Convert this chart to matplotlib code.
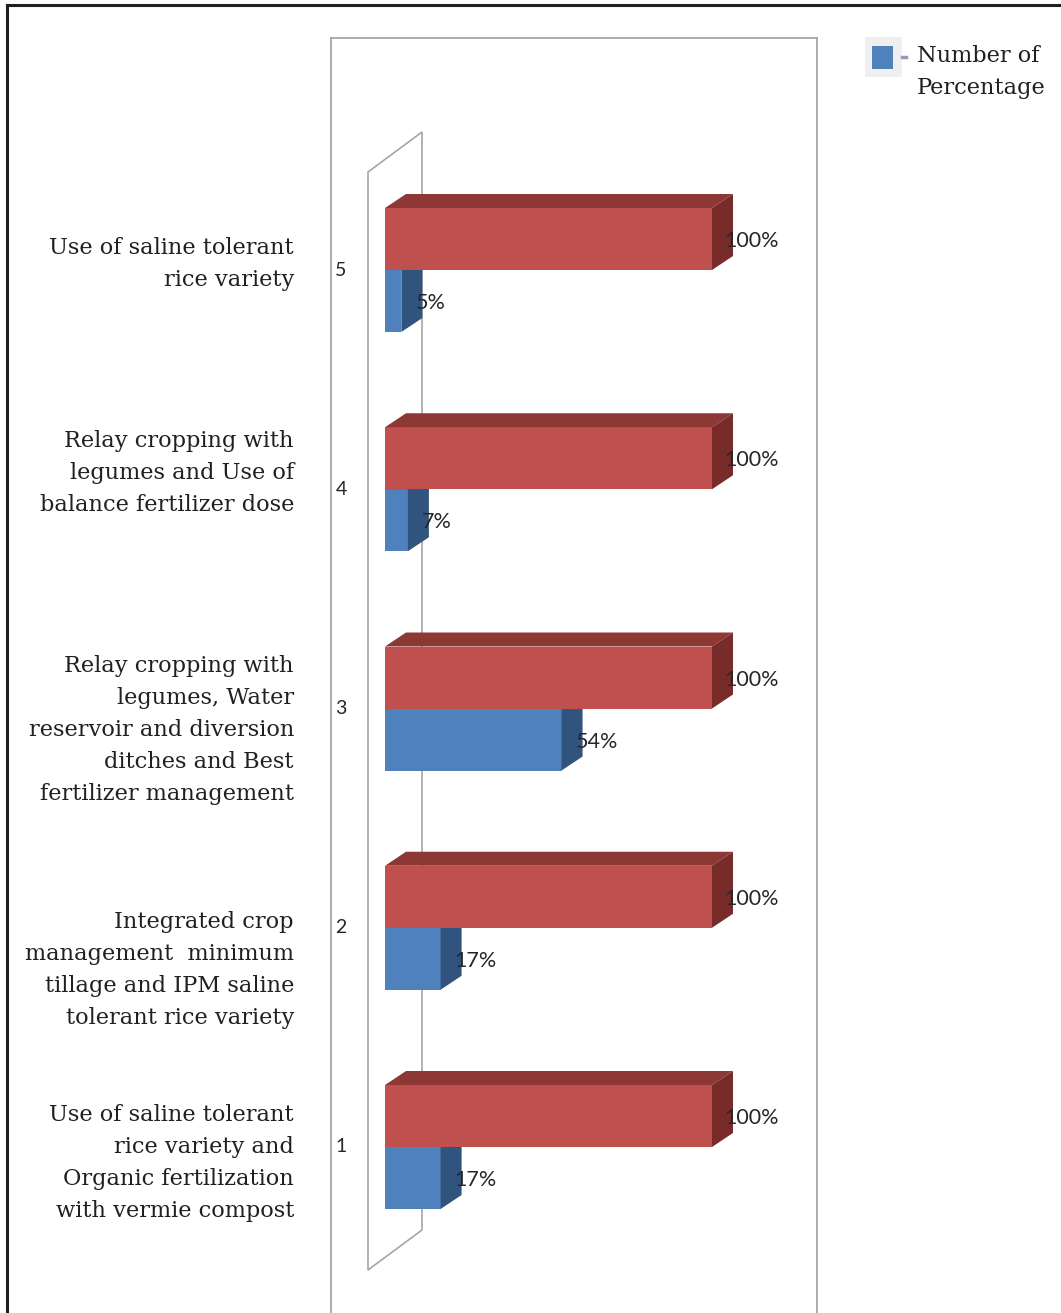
import matplotlib
matplotlib.use("Agg")
import matplotlib.pyplot as plt
from matplotlib.patches import Polygon, Rectangle
from matplotlib.lines import Line2D

# ---------------- data ----------------
categories = [
    "Use of saline tolerant\nrice variety and\nOrganic fertilization\nwith vermie compost",
    "Integrated crop\nmanagement  minimum\ntillage and IPM saline\ntolerant rice variety",
    "Relay cropping with\nlegumes, Water\nreservoir and diversion\nditches and Best\nfertilizer management",
    "Relay cropping with\nlegumes and Use of\nbalance fertilizer dose",
    "Use of saline tolerant\nrice variety",
]
tick_labels = ["1", "2", "3", "4", "5"]
positions = [1, 2, 3, 4, 5]
number_of = [100, 100, 100, 100, 100]
percentage = [17, 17, 54, 7, 5]
legend_label = "Number of\nPercentage"

# ---------------- layout ----------------
W, H = 1061, 1313
DPI = 100
fig = plt.figure(figsize=(W / DPI, H / DPI), dpi=DPI)
fig.patch.set_facecolor("white")

px_per_unit = 3.27          # horizontal pixels per percent
px_per_cat = 219.25         # vertical pixels per category
x0_px, y1_px = 385, 1147    # pixel of value 0 and category 1 (from top)
ax_l, ax_r, ax_t = 331, 817, 38

ax = fig.add_axes([ax_l / W, 0, (ax_r - ax_l) / W, (H - ax_t) / H])
ax.set_xlim(-(x0_px - ax_l) / px_per_unit, (ax_r - x0_px) / px_per_unit)
ax.set_ylim(1 - (H - y1_px) / px_per_cat, 1 + (y1_px - ax_t) / px_per_cat)
ax.set_xticks([])
ax.set_yticks([])
for s in ["left", "right", "top"]:
    ax.spines[s].set_color("#A6A6A6")
    ax.spines[s].set_linewidth(1.3)
ax.spines["bottom"].set_visible(False)

dx = 21 / px_per_unit
dy = 14 / px_per_cat
bh = 62 / px_per_cat

# back wall
wx = -17 / px_per_unit
wdx = 54 / px_per_unit
wdy = 40 / px_per_cat
wy0 = 1 - (1270 - y1_px) / px_per_cat
wy1 = 1 + (y1_px - 172) / px_per_cat
wall = Polygon([(wx, wy0), (wx, wy1), (wx + wdx, wy1 + wdy), (wx + wdx, wy0 + wdy)],
               closed=True, fill=False, edgecolor="#A6A6A6", lw=1.2, zorder=1)
ax.add_patch(wall)


def bar3d(val, yb, yt, front, top, side):
    ax.add_patch(Polygon([(0, yb), (val, yb), (val, yt), (0, yt)], closed=True,
                         facecolor=front, edgecolor="none", zorder=3))
    ax.add_patch(Polygon([(0, yt), (dx, yt + dy), (val + dx, yt + dy), (val, yt)], closed=True,
                         facecolor=top, edgecolor="none", zorder=3))
    ax.add_patch(Polygon([(val, yb), (val + dx, yb + dy), (val + dx, yt + dy), (val, yt)], closed=True,
                         facecolor=side, edgecolor="none", zorder=3))


lab_font = dict(family=["Lato", "DejaVu Sans"], size=15.5, color="#262626")
for p, nv, pv in zip(positions, number_of, percentage):
    bar3d(pv, p - bh, p, "#4F81BD", "#3A6391", "#30547E")
    bar3d(nv, p, p + bh, "#C0504D", "#8E3836", "#772C2A")
    ax.text(nv + 12 / px_per_unit, p + bh / 2 - 2 / px_per_cat, f"{nv}%", ha="left", va="center",
            zorder=5, **lab_font)
    ax.text(pv + 14 / px_per_unit, p - bh / 2 - 2 / px_per_cat, f"{pv}%", ha="left", va="center",
            zorder=5, **lab_font)

# tick numbers
tick_font = dict(family=["Lato", "DejaVu Sans"], size=14, color="#262626")
for p, t in zip(positions, tick_labels):
    ax.text(-44 / px_per_unit, p, t, ha="center", va="center", zorder=5, **tick_font)

# category labels (right aligned, outside axes)
label_offsets = [-0.073, -0.193, -0.098, 0.074, 0.027]
serif = dict(family=["DejaVu Serif"], size=16.2, color="#231F20")
for p, c, o in zip(positions, categories, label_offsets):
    ax.text((294 - x0_px) / px_per_unit, p + o, c, ha="right", va="center",
            linespacing=1.6, clip_on=False, **serif)

# legend
fig.add_artist(Rectangle((865 / W, 1 - 77 / H), 37 / W, 40 / H, transform=fig.transFigure,
                         facecolor="#EFEFEF", edgecolor="none"))
fig.add_artist(Rectangle((872 / W, 1 - 69 / H), 21 / W, 23 / H, transform=fig.transFigure,
                         facecolor="#4F81BD", edgecolor="none"))
fig.add_artist(Line2D([902 / W, 906 / W], [1 - 57 / H, 1 - 57 / H], transform=fig.transFigure,
                      color="#9A9AB8", lw=2.5))
fig.text(917 / W, 1 - 72 / H, legend_label, ha="left", va="center", linespacing=1.6, **serif)

# outer border
fig.add_artist(Line2D([7 / W, 7 / W], [0, 1 - 5 / H], transform=fig.transFigure,
                      color="#231F20", lw=2.2, solid_capstyle="projecting"))
fig.add_artist(Line2D([7 / W, 1], [1 - 5 / H, 1 - 5 / H], transform=fig.transFigure,
                      color="#231F20", lw=2.2, solid_capstyle="projecting"))

fig.savefig("out.png", dpi=DPI, facecolor="white")
